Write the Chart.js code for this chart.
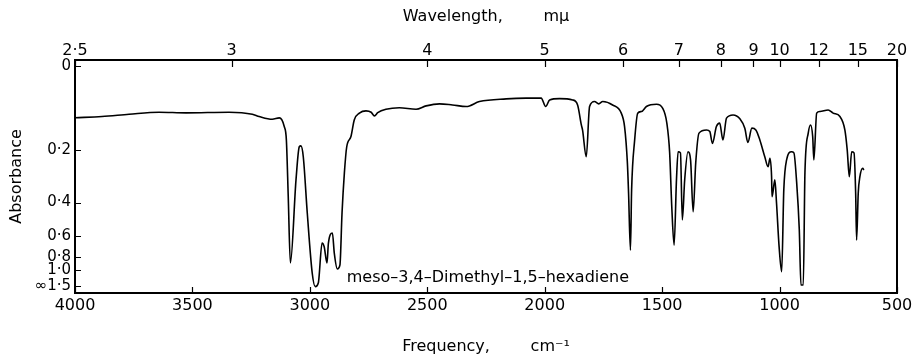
<!DOCTYPE html>
<html>
<head>
<meta charset="utf-8">
<script src="https://cdn.jsdelivr.net/npm/chart.js@4/dist/chart.umd.min.js"></script>
<style>
  html, body { margin: 0; padding: 0; background: #fff; }
  #wrap { width: 917px; height: 356px; }
</style>
</head>
<body>
<div id="wrap"><canvas id="c" width="917" height="356"></canvas></div>
<script>
// ---- data ----
const frequency = [
  4000,3885,3770,3642,3527,3344,3245,3216,3160,3130,
  3109,3100,3092,3083,3059,3045,3038,3028,3011,2990,
  2977,2964,2948,2939,2927,2921,2904,2896,2883,2872,
  2863,2853,2843,2825,2811,2789,2761,2739,2725,2711,
  2676,2619,2548,2505,2448,2393,2334,2278,2164,2079,
  2015,1996,1979,1937,1881,1860,1844,1839,1823,1809,
  1788,1770,1753,1711,1674,1660,1648,1643,1635,1630,
  1617,1604,1588,1567,1524,1498,1480,1468,1459,1449,
  1439,1432,1422,1414,1404,1390,1379,1368,1357,1343,
  1311,1297,1286,1269,1255,1241,1226,1198,1169,1148,
  1135,1118,1101,1084,1063,1049,1041,1034,1032,1020,
  1013,1002,991,982,970,949,939,928,916,909,
  899,892,878,868,859,854,842,828,793,772,
  743,722,712,703,693,683,676,672,665,658,
  646,641
];
// transmittance in percent (the absorbance axis is linear in transmittance)
const transmittance = [
  77.2,77.7,78.7,79.6,79.3,79.6,78.7,77.7,76.5,77.1,
  73.3,67.4,42.4,13.2,49.8,64.4,64.8,60.0,35.2,8.8,
  2.8,4.4,22.0,20.4,13.2,22.0,26.4,17.6,10.6,12.3,
  35.2,52.9,64.4,68.9,76.2,79.2,80.2,79.6,78.0,79.4,
  80.9,81.6,80.9,82.4,83.3,82.8,82.1,84.3,85.5,85.8,
  85.8,82.1,85.0,85.6,85.0,82.8,74.0,71.8,60.0,82.1,
  84.3,83.3,84.3,82.8,79.2,73.3,57.3,44.1,18.9,45.4,
  67.4,79.2,79.9,82.1,83.1,81.4,74.8,61.7,38.0,21.1,
  49.8,62.2,61.7,32.2,49.8,62.2,58.6,35.8,57.3,70.4,
  71.8,71.1,65.9,73.3,74.8,67.4,77.0,78.4,76.7,72.5,
  66.3,72.6,71.8,67.4,60.0,55.6,59.3,51.2,42.4,49.8,
  39.6,20.4,9.4,45.4,58.6,62.2,61.7,49.8,27.8,3.5,
  3.5,52.9,70.4,74.0,68.9,58.6,79.2,79.9,80.6,79.2,
  77.7,71.8,63.0,51.2,62.2,61.7,43.9,23.3,44.1,51.2,
  54.9,54.2
];
const frequencyTicks = [4000, 3500, 3000, 2500, 2000, 1500, 1000, 500];
const wavelengthTicks = [2.5, 3, 4, 5, 6, 7, 8, 9, 10, 12, 15, 20];
const wavelengthLabels = ['2·5','3','4','5','6','7','8','9','10','12','15','20'];
const absorbanceTicks = [0, 0.2, 0.4, 0.6, 0.8, 1.0, 1.5];
const absorbanceLabels = ['0','0·2','0·4','0·6','0·8','1·0','∞1·5'];
const compoundName = 'meso–3,4–Dimethyl–1,5–hexadiene';
const xTitle = 'Frequency,        cm⁻¹';
const x2Title = 'Wavelength,        mμ';
const yTitle = 'Absorbance';

// ---- chart ----
const FONT = 'DejaVu Sans';
const points = frequency.map((f, i) => ({ x: f, y: transmittance[i] }));

const framePlugin = {
  id: 'frame',
  afterDraw(chart) {
    const ctx = chart.ctx;
    const a = chart.chartArea;
    ctx.save();
    ctx.strokeStyle = '#000';
    ctx.lineWidth = 2;
    ctx.strokeRect(a.left, a.top, a.right - a.left, a.bottom - a.top);
    // inward tick marks, placed by the scales
    ctx.lineWidth = 1.2;
    const xs = chart.scales.x, x2 = chart.scales.x2, ys = chart.scales.y;
    ctx.beginPath();
    xs.ticks.forEach(t => {
      const px = Math.round(xs.getPixelForValue(t.value)) + 0.5;
      ctx.moveTo(px, a.bottom); ctx.lineTo(px, a.bottom - 6);
    });
    x2.ticks.forEach(t => {
      const px = Math.round(x2.getPixelForValue(t.value)) + 0.5;
      ctx.moveTo(px, a.top); ctx.lineTo(px, a.top + 7);
    });
    ys.ticks.forEach(t => {
      const py = Math.round(ys.getPixelForValue(t.value)) + 0.5;
      ctx.moveTo(a.left, py); ctx.lineTo(a.left + 6, py);
    });
    ctx.stroke();
    // compound name
    ctx.fillStyle = '#000';
    ctx.font = '16px "' + FONT + '"';
    ctx.textAlign = 'left';
    ctx.textBaseline = 'alphabetic';
    ctx.fillText(compoundName, xs.getPixelForValue(2843), 282);
    ctx.restore();
  }
};

new Chart(document.getElementById('c'), {
  type: 'line',
  data: {
    datasets: [{
      data: points,
      borderColor: '#000',
      borderWidth: 1.6,
      pointRadius: 0,
      fill: false,
      cubicInterpolationMode: 'monotone'
    }]
  },
  options: {
    responsive: false,
    devicePixelRatio: 1,
    animation: false,
    layout: { padding: { left: 0, right: 20, top: 0, bottom: 0 } },
    plugins: { legend: { display: false }, tooltip: { enabled: false } },
    scales: {
      x: {
        type: 'linear', position: 'bottom', reverse: true, min: 500, max: 4000,
        afterBuildTicks: s => { s.ticks = frequencyTicks.map(v => ({ value: v })); },
        afterFit: s => { s.height = 63; },
        grid: { display: false, drawTicks: false },
        border: { display: false },
        ticks: { color: '#000', font: { family: FONT, size: 16 }, padding: 3, maxRotation: 0, autoSkip: false,
                 callback: v => String(v) },
        title: { display: true, text: xTitle, color: '#000', font: { family: FONT, size: 16 },
                 padding: { top: 0, bottom: 0 } }
      },
      x2: {
        type: 'linear', position: 'top', reverse: true, min: 500, max: 4000,
        afterBuildTicks: s => { s.ticks = wavelengthTicks.map(w => ({ value: 10000 / w })); },
        afterFit: s => { s.height = 60; },
        grid: { display: false, drawTicks: false },
        border: { display: false },
        ticks: { color: '#000', font: { family: FONT, size: 16 }, padding: 0, maxRotation: 0, autoSkip: false,
                 callback: (v, i) => wavelengthLabels[i] },
        title: { display: true, text: x2Title, color: '#000', font: { family: FONT, size: 16 },
                 padding: { top: 7, bottom: 0 } }
      },
      y: {
        type: 'linear', position: 'left', min: 0, max: 102.6,
        afterBuildTicks: s => { s.ticks = absorbanceTicks.map(a => ({ value: 100 * Math.pow(10, -a) })); },
        afterFit: s => { s.width = 75; },
        grid: { display: false, drawTicks: false },
        border: { display: false },
        ticks: { color: '#000', font: { family: FONT, size: 15 }, padding: 4, autoSkip: false,
                 callback: (v, i) => absorbanceLabels[i] },
        title: { display: true, text: yTitle, color: '#000', font: { family: FONT, size: 16 },
                 padding: { top: 7, bottom: 0 } }
      }
    }
  },
  plugins: [framePlugin]
});
</script>
</body>
</html>
